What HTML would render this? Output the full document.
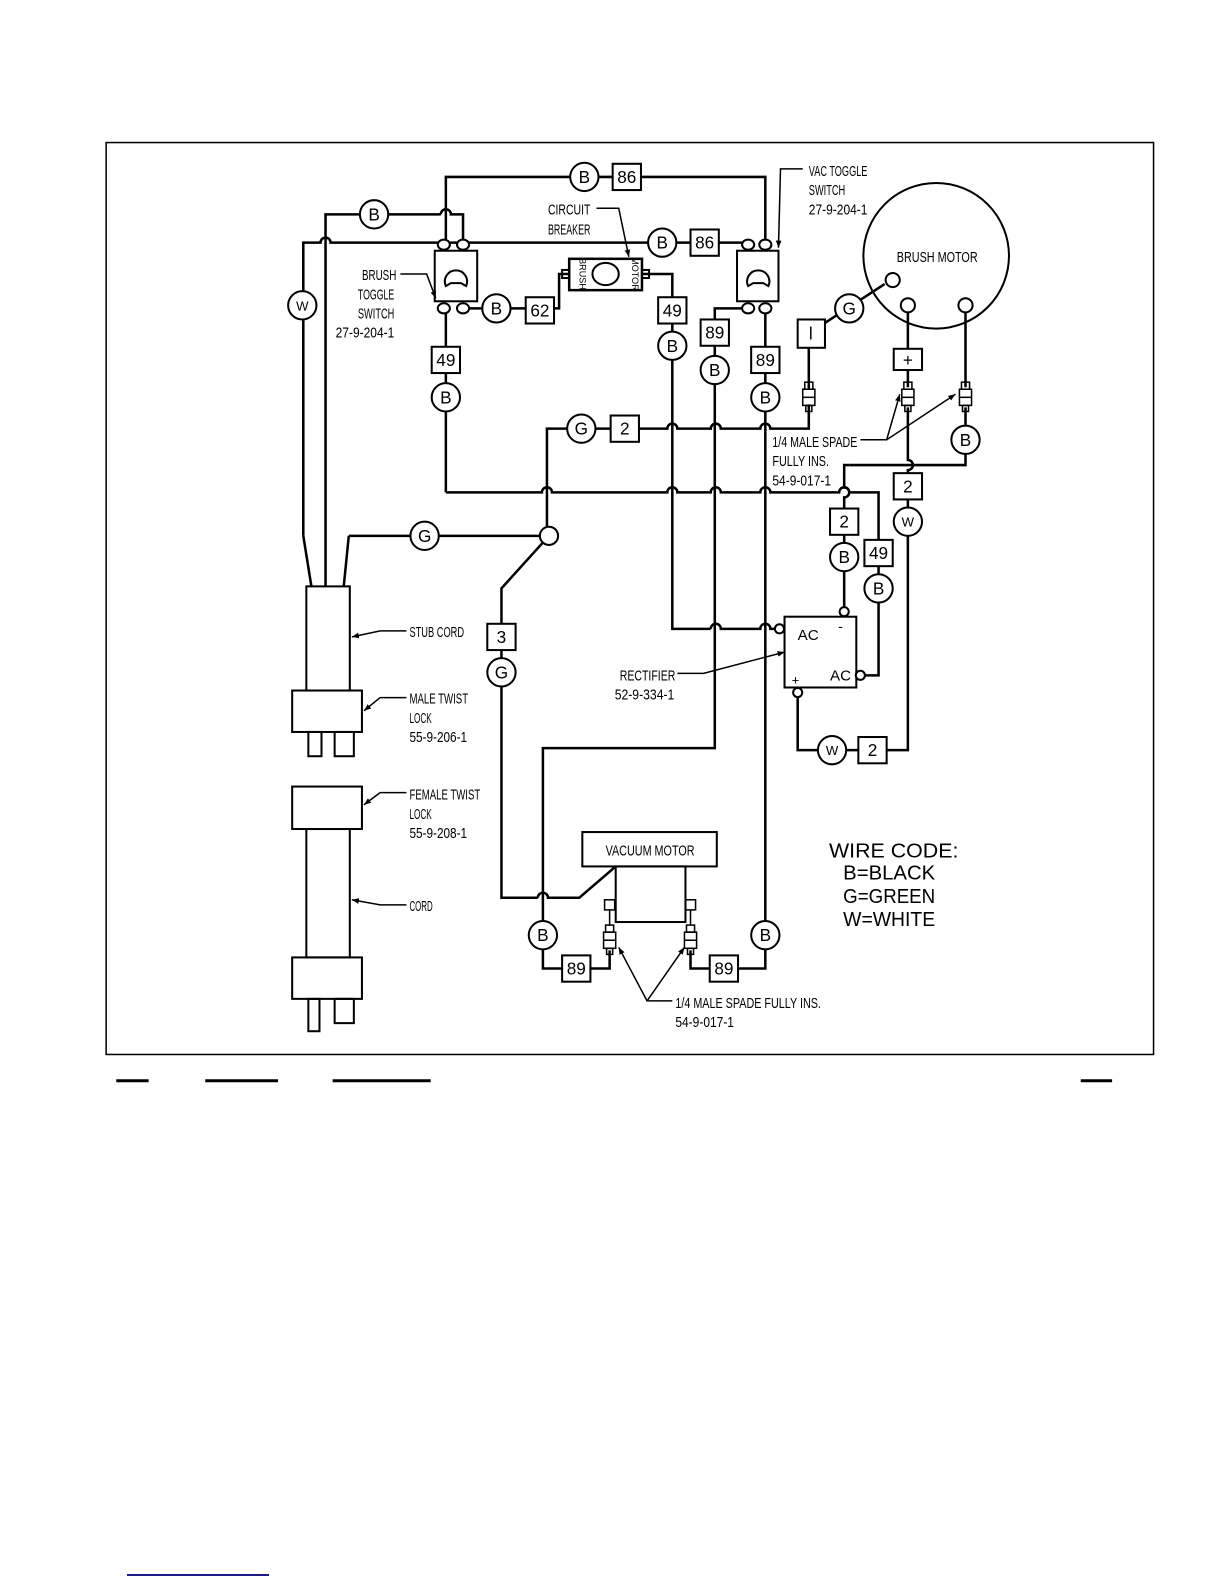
<!DOCTYPE html>
<html><head><meta charset="utf-8"><style>
html,body{margin:0;padding:0;background:#fff}
svg{display:block}
text{font-family:"Liberation Sans",sans-serif;fill:#000}
.l{font-size:15px}
.c{font-size:17px}
</style></head><body>
<svg width="1224" height="1584" viewBox="0 0 1224 1584" xmlns="http://www.w3.org/2000/svg">
<defs><marker id="a" viewBox="0 0 10 10" refX="10" refY="5" markerWidth="7" markerHeight="7" orient="auto" markerUnits="userSpaceOnUse"><path d="M0,1 L10,5 L0,9 Z" fill="#000" stroke="none"/></marker></defs>
<line x1="127" y1="1575" x2="269" y2="1575" stroke="#1a1a8c" stroke-width="2"/>
<g transform="scale(1.011)" fill="none" stroke="#000" stroke-width="2">
<rect x="105" y="141" width="1036" height="902" stroke-width="1.5"/>
<g stroke-width="3"><line x1="115" y1="1069" x2="147" y2="1069"/><line x1="203" y1="1069" x2="275" y2="1069"/><line x1="329" y1="1069" x2="426" y2="1069"/><line x1="1069" y1="1069" x2="1100" y2="1069"/></g>

<g stroke-width="2.5">
<polyline points="441,240 441,175 757,175 757,240"/>
<polyline points="322,580 322,212 436,212"/>
<path d="M436,212 a5,5 0 0 1 10,0 L458,212 L458,240"/>
<path d="M300,530 L300,240 L317,240 a5,5 0 0 1 10,0 L740,240"/>
<line x1="300" y1="530" x2="308" y2="580"/>
<polyline points="345,530 340,580"/>
<line x1="345" y1="530" x2="543" y2="530"/>
<line x1="441" y1="305" x2="441" y2="487"/>
<path d="M441,487 L536,487 a5,5 0 0 1 10,0 L660,487 a5,5 0 0 1 10,0 L703,487 a5,5 0 0 1 10,0 L752,487 a5,5 0 0 1 10,0 L830,487 a5,5 0 0 1 10,0 L869,487 L869,668 L851,668"/>
<polyline points="458,305 534,305"/>
<polyline points="534,305 553,305 553,271 563,271"/>
<polyline points="635,271 665,271 665,622 703,622"/>
<path d="M703,622 a5,5 0 0 1 10,0 L752,622 a5,5 0 0 1 10,0 L776,622"/>
<polyline points="740,305 707,305 707,740 537,740 537,958 603,958 603,940"/>
<polyline points="757,305 757,958 683,958 683,940"/>
<path d="M541,530 L541,424 L660,424 a5,5 0 0 1 10,0 L703,424 a5,5 0 0 1 10,0 L752,424 a5,5 0 0 1 10,0 L800,424 L800,400"/>
<line x1="800" y1="385" x2="800" y2="340"/>
<line x1="815" y1="320" x2="875" y2="281"/>
<polyline points="543,530 496,582 496,888 532,888"/>
<path d="M532,888 a5,5 0 0 1 10,0 L573,888 L609,857"/>
<line x1="898" y1="309" x2="898" y2="383"/>
<path d="M898,403 L898,455 a5,5 0 0 1 0,10 L898,742 L789,742 L789,685"/>
<line x1="955" y1="309" x2="955" y2="383"/>
<polyline points="955,403 955,460 840,460"/>
<path d="M840,460 L835,460 L835,482 a5,5 0 0 1 0,10 L835,605"/>
</g>

<rect x="430" y="248" width="42" height="50"/>
<path d="M441,283 a11,11 0 1 1 20,0 L456,280 L446,280 Z"/>
<g fill="#fff"><ellipse cx="439" cy="242" rx="6" ry="5"/><ellipse cx="458" cy="242" rx="6" ry="5"/><ellipse cx="439" cy="305" rx="6" ry="5"/><ellipse cx="458" cy="305" rx="6" ry="5"/>
<ellipse cx="740" cy="242" rx="6" ry="5"/><ellipse cx="757" cy="242" rx="6" ry="5"/><ellipse cx="740" cy="305" rx="6" ry="5"/><ellipse cx="757" cy="305" rx="6" ry="5"/></g>
<rect x="729" y="248" width="41" height="50"/>
<path d="M740,283 a11,11 0 1 1 20,0 L755,280 L745,280 Z"/>
<rect x="563" y="256" width="72" height="31" stroke-width="2.5"/>
<rect x="556" y="267" width="7" height="8"/><rect x="635" y="267" width="7" height="8"/>
<ellipse cx="599" cy="271" rx="13" ry="11"/>
<text x="573" y="271" font-size="9" stroke="none" transform="rotate(90 573 271)" text-anchor="middle">BRUSH</text>
<text x="625" y="271" font-size="9" stroke="none" transform="rotate(90 625 271)" text-anchor="middle">MOTOR</text>

<circle cx="926" cy="253" r="72"/>
<g fill="#fff"><circle cx="883" cy="277" r="7"/><circle cx="898" cy="302" r="7"/><circle cx="955" cy="302" r="7"/></g>

<g stroke-width="1.5">
<rect x="796" y="378" width="8" height="7"/><rect x="794" y="385" width="12" height="16"/><line x1="794" y1="393" x2="806" y2="393"/><rect x="797" y="401" width="6" height="6"/>
<rect x="894" y="378" width="8" height="7"/><rect x="892" y="385" width="12" height="16"/><line x1="892" y1="393" x2="904" y2="393"/><rect x="895" y="401" width="6" height="6"/>
<rect x="951" y="378" width="8" height="7"/><rect x="949" y="385" width="12" height="16"/><line x1="949" y1="393" x2="961" y2="393"/><rect x="952" y="401" width="6" height="6"/>
<rect x="599" y="915" width="8" height="7"/><rect x="597" y="922" width="12" height="16"/><line x1="597" y1="930" x2="609" y2="930"/><rect x="600" y="938" width="6" height="6"/>
<rect x="679" y="915" width="8" height="7"/><rect x="677" y="922" width="12" height="16"/><line x1="677" y1="930" x2="689" y2="930"/><rect x="680" y="938" width="6" height="6"/>
<rect x="598" y="890" width="10" height="10"/><rect x="678" y="890" width="10" height="10"/>
<line x1="603" y1="900" x2="603" y2="915"/><line x1="683" y1="900" x2="683" y2="915"/>
</g>

<rect x="776" y="610" width="71" height="70"/>
<g fill="#fff"><circle cx="771" cy="622" r="4.5"/><circle cx="835" cy="605" r="4.5"/><circle cx="851" cy="668" r="4.5"/><circle cx="789" cy="685" r="4.5"/></g>

<rect x="303" y="580" width="43" height="103"/>
<rect x="289" y="683" width="69" height="41"/>
<rect x="305" y="724" width="13" height="24"/><rect x="331" y="724" width="19" height="24"/>
<rect x="289" y="778" width="69" height="42"/>
<rect x="303" y="820" width="43" height="127"/>
<rect x="289" y="947" width="69" height="41"/>
<rect x="305" y="988" width="11" height="32"/><rect x="331" y="988" width="19" height="24"/>
<rect x="576" y="823" width="133" height="34"/>
<rect x="609" y="857" width="69" height="55"/>

<g stroke-width="1.5" marker-end="url(#a)">
<polyline points="396,271 422,271 431,295"/>
<polyline points="590,206 612,206 622,254"/>
<polyline points="794,167 772,167 770,245"/>
<polyline points="851,435 877,435 890,390"/><line x1="877" y1="435" x2="945" y2="390"/>
<polyline points="670,666 696,666 776,645"/>
<polyline points="402,624 376,624 348,630"/>
<polyline points="402,690 376,690 360,703"/>
<polyline points="402,784 376,784 360,796"/>
<polyline points="402,895 376,895 348,890"/>
<polyline points="665,990 640,990 612,937"/><line x1="640" y1="990" x2="677" y2="937"/>
</g>

<g fill="#fff" stroke-width="2">
<circle cx="578" cy="175" r="14"/><circle cx="370" cy="212" r="14"/><circle cx="655" cy="240" r="14"/>
<circle cx="299" cy="302" r="14"/><circle cx="491" cy="305" r="14"/><circle cx="665" cy="342" r="14"/>
<circle cx="441" cy="393" r="14"/><circle cx="707" cy="366" r="14"/><circle cx="757" cy="393" r="14"/>
<circle cx="575" cy="424" r="14"/><circle cx="840" cy="305" r="14"/><circle cx="955" cy="435" r="14"/>
<circle cx="420" cy="530" r="14"/><circle cx="543" cy="530" r="9"/><circle cx="898" cy="516" r="14"/>
<circle cx="835" cy="551" r="14"/><circle cx="869" cy="582" r="14"/><circle cx="496" cy="665" r="14"/>
<circle cx="823" cy="742" r="14"/><circle cx="537" cy="925" r="14"/><circle cx="757" cy="925" r="14"/>
</g>
<g fill="#fff" stroke-width="2">
<rect x="606" y="162" width="28" height="26"/><rect x="683" y="227" width="28" height="26"/>
<rect x="520" y="294" width="28" height="26"/><rect x="651" y="294" width="28" height="26"/>
<rect x="427" y="343" width="28" height="26"/><rect x="693" y="316" width="28" height="26"/>
<rect x="743" y="343" width="28" height="26"/><rect x="604" y="411" width="28" height="26"/>
<rect x="789" y="316" width="27" height="28"/><rect x="884" y="345" width="28" height="21"/>
<rect x="884" y="468" width="28" height="26"/><rect x="821" y="503" width="28" height="26"/>
<rect x="855" y="534" width="28" height="26"/><rect x="482" y="617" width="28" height="26"/>
<rect x="849" y="729" width="28" height="26"/><rect x="556" y="945" width="28" height="26"/>
<rect x="702" y="945" width="28" height="26"/>
</g>
</g>

<g transform="scale(1.011)">
<g class="c" text-anchor="middle">
<text x="578" y="181">B</text><text x="370" y="218">B</text><text x="655" y="246">B</text>
<text x="299" y="307" font-size="13">W</text><text x="491" y="311">B</text><text x="665" y="348">B</text>
<text x="441" y="399">B</text><text x="707" y="372">B</text><text x="757" y="399">B</text>
<text x="575" y="430">G</text><text x="840" y="311">G</text><text x="955" y="441">B</text>
<text x="420" y="536">G</text><text x="898" y="521" font-size="13">W</text>
<text x="835" y="557">B</text><text x="869" y="588">B</text><text x="496" y="671">G</text>
<text x="823" y="747" font-size="13">W</text><text x="537" y="931">B</text><text x="757" y="931">B</text>
<text x="620" y="181">86</text><text x="697" y="246">86</text><text x="534" y="313">62</text>
<text x="665" y="313">49</text><text x="441" y="362">49</text><text x="707" y="335">89</text>
<text x="757" y="362">89</text><text x="618" y="430">2</text><text x="802" y="336">l</text>
<text x="898" y="362">+</text><text x="898" y="487">2</text><text x="835" y="522">2</text>
<text x="869" y="553">49</text><text x="496" y="636">3</text><text x="863" y="748">2</text>
<text x="570" y="964">89</text><text x="716" y="964">89</text>
</g>
<g class="l">
<text x="358" y="277" textLength="34" lengthAdjust="spacingAndGlyphs">BRUSH</text>
<text x="354" y="296" textLength="36" lengthAdjust="spacingAndGlyphs">TOGGLE</text>
<text x="354" y="315" textLength="36" lengthAdjust="spacingAndGlyphs">SWITCH</text>
<text x="332" y="334" textLength="58" lengthAdjust="spacingAndGlyphs">27-9-204-1</text>
<text x="542" y="212" textLength="42" lengthAdjust="spacingAndGlyphs">CIRCUIT</text>
<text x="542" y="232" textLength="42" lengthAdjust="spacingAndGlyphs">BREAKER</text>
<text x="800" y="174" textLength="58" lengthAdjust="spacingAndGlyphs">VAC TOGGLE</text>
<text x="800" y="193" textLength="36" lengthAdjust="spacingAndGlyphs">SWITCH</text>
<text x="800" y="212" textLength="58" lengthAdjust="spacingAndGlyphs">27-9-204-1</text>
<text x="887" y="259" textLength="80" lengthAdjust="spacingAndGlyphs">BRUSH MOTOR</text>
<text x="764" y="442" textLength="84" lengthAdjust="spacingAndGlyphs">1/4 MALE SPADE</text>
<text x="764" y="461" textLength="56" lengthAdjust="spacingAndGlyphs">FULLY INS.</text>
<text x="764" y="480" textLength="58" lengthAdjust="spacingAndGlyphs">54-9-017-1</text>
<text x="789" y="633" font-size="15">AC</text>
<text x="829" y="624" font-size="14">-</text>
<text x="821" y="673" font-size="15">AC</text>
<text x="783" y="677" font-size="13">+</text>
<text x="613" y="673" textLength="55" lengthAdjust="spacingAndGlyphs">RECTIFIER</text>
<text x="608" y="692" textLength="59" lengthAdjust="spacingAndGlyphs">52-9-334-1</text>
<text x="405" y="630" textLength="54" lengthAdjust="spacingAndGlyphs">STUB CORD</text>
<text x="405" y="696" textLength="58" lengthAdjust="spacingAndGlyphs">MALE TWIST</text>
<text x="405" y="715" textLength="22" lengthAdjust="spacingAndGlyphs">LOCK</text>
<text x="405" y="734" textLength="57" lengthAdjust="spacingAndGlyphs">55-9-206-1</text>
<text x="405" y="791" textLength="70" lengthAdjust="spacingAndGlyphs">FEMALE TWIST</text>
<text x="405" y="810" textLength="22" lengthAdjust="spacingAndGlyphs">LOCK</text>
<text x="405" y="829" textLength="57" lengthAdjust="spacingAndGlyphs">55-9-208-1</text>
<text x="405" y="901" textLength="23" lengthAdjust="spacingAndGlyphs">CORD</text>
<text x="599" y="846" textLength="88" lengthAdjust="spacingAndGlyphs">VACUUM MOTOR</text>
<text x="668" y="997" textLength="144" lengthAdjust="spacingAndGlyphs">1/4 MALE SPADE FULLY INS.</text>
<text x="668" y="1016" textLength="58" lengthAdjust="spacingAndGlyphs">54-9-017-1</text>
</g>
<g font-size="20">
<text x="820" y="848" textLength="128" lengthAdjust="spacingAndGlyphs">WIRE CODE:</text>
<text x="834" y="870" textLength="91" lengthAdjust="spacingAndGlyphs">B=BLACK</text>
<text x="834" y="893" textLength="91" lengthAdjust="spacingAndGlyphs">G=GREEN</text>
<text x="834" y="916" textLength="91" lengthAdjust="spacingAndGlyphs">W=WHITE</text>
</g>
</g>
</svg>
</body></html>
